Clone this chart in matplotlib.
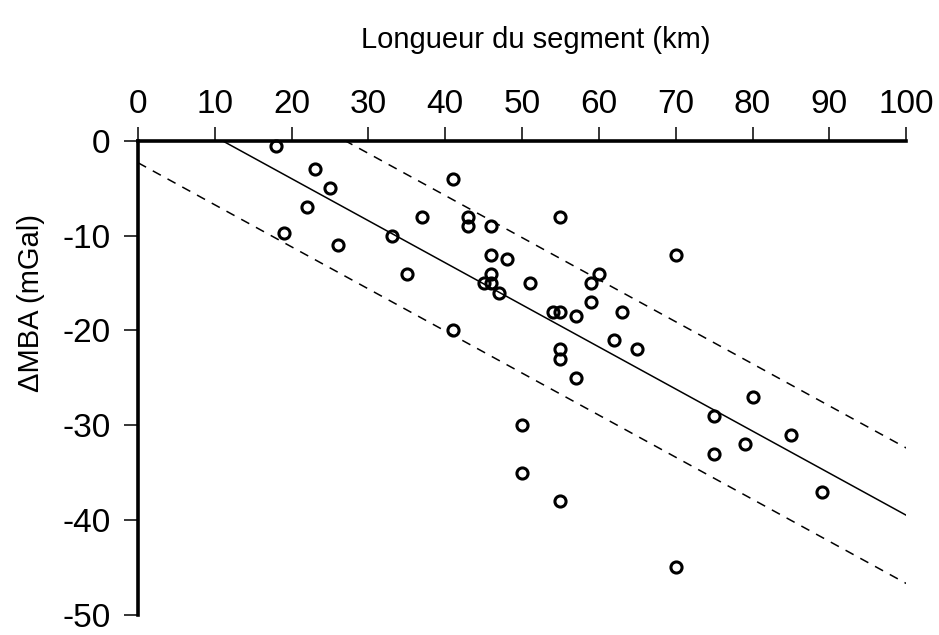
import numpy as np
import matplotlib
matplotlib.use('Agg')
import matplotlib.pyplot as plt

plt.rcParams['font.family'] = ['Liberation Sans', 'DejaVu Sans']
plt.rcParams['axes.unicode_minus'] = False

# segment length (km) and MBA anomaly (mGal)
longueur = [18, 23, 25, 22, 19, 26, 33, 35, 37, 41, 43, 43, 46, 55, 46, 48,
            46, 45, 46, 47, 51, 60, 59, 59, 70, 54, 55, 57, 63, 41, 62, 65,
            55, 55, 57, 50, 50, 55, 70, 80, 75, 85, 79, 75, 89]
dmba = [-0.5, -3, -5, -7, -9.7, -11, -10, -14, -8, -4, -8, -9, -9, -8, -12, -12.5,
        -14, -15, -15, -16, -15, -14, -15, -17, -12, -18, -18, -18.5, -18, -20, -21, -22,
        -22, -23, -25, -30, -35, -38, -45, -27, -29, -31, -32, -33, -37]

# fitted line and envelope (y = a*x + b)
pente = -0.444
ordonnees = {'fit': 4.9, 'haut': 12.0, 'bas': -2.3}

fig = plt.figure(figsize=(9.39, 6.35), dpi=100)
ax = fig.add_axes([0.147, 0.032, 0.818, 0.746])

xx = np.array([0, 100])
ax.plot(xx, pente * xx + ordonnees['fit'], color='black', lw=1.1)
ax.plot(xx, pente * xx + ordonnees['haut'], color='black', lw=1.1, ls=(0, (6, 5)))
ax.plot(xx, pente * xx + ordonnees['bas'], color='black', lw=1.1, ls=(0, (6, 5)))

ax.plot(longueur, dmba, 'o', mfc='none', mec='black', ms=8, mew=2.2, clip_on=False)

ax.set_xlim(0, 100)
ax.set_ylim(-50, 0)
ax.set_xticks(range(0, 101, 10))
ax.set_yticks(range(-50, 1, 10))

for s in ['bottom', 'right']:
    ax.spines[s].set_visible(False)
for s in ['top', 'left']:
    ax.spines[s].set_linewidth(2.6)

ax.xaxis.tick_top()
ax.xaxis.set_label_position('top')
ax.tick_params(axis='both', direction='out', length=10, width=1.1, labelsize=24)
ax.tick_params(axis='x', pad=5)
ax.tick_params(axis='y', pad=10)
ax.set_xlabel('Longueur du segment (km)', fontsize=21)
ax.set_ylabel('ΔMBA (mGal)', fontsize=21)
ax.xaxis.set_label_coords(0.518, 1.196)
ax.yaxis.set_label_coords(-0.121, 0.658)

fig.savefig('out.png', dpi=100)
